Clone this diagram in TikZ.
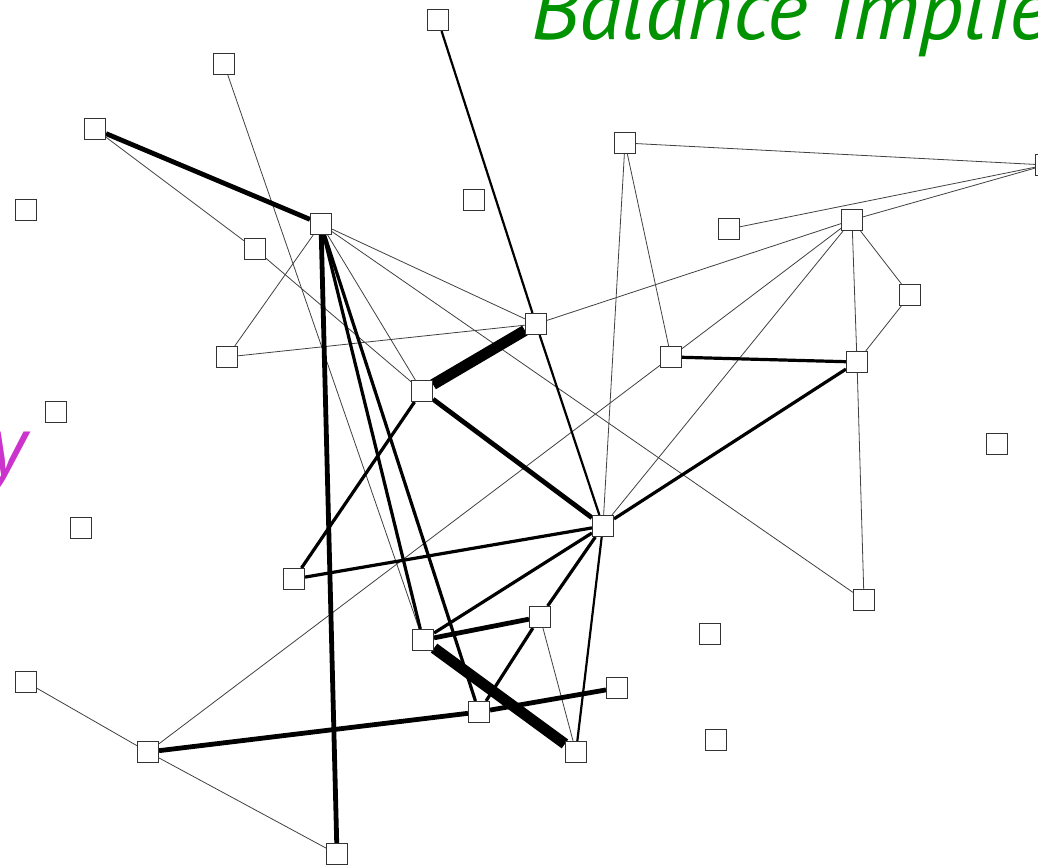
\documentclass[tikz,border=0pt]{standalone}
\usepackage{fontspec}
\newfontfamily\slidefont{PT Sans}
\usetikzlibrary{backgrounds}
\definecolor{slidegreen}{RGB}{0,146,0}
\definecolor{slidepink}{RGB}{204,51,204}
\tikzset{
vtx/.style={
  rectangle,
  draw=black!80,
  fill=white,
  line width=1.1pt,
  minimum size=21pt,
  inner sep=0pt
  },
wa/.style={black!75,line width=0.8pt},
wb/.style={black,line width=2.2pt},
wc/.style={black,line width=3.2pt},
wd/.style={black,line width=4.8pt},
we/.style={black,line width=11pt},
bigword/.style={
  inner sep=0pt,
  font=\slidefont\itshape\fontsize{87}{92}\selectfont
  }
}

\begin{document}
\begin{tikzpicture}[x=1pt,y=-1pt]

\useasboundingbox (0,0) rectangle (1038,866);

\node[bigword,text=slidegreen,anchor=base west] (head) at (531,40) {Balance implie};
\node[bigword,text=slidepink,anchor=base east] (tail) at (27,475) {y};

\node[vtx] (v1) at (438,20) {};
\node[vtx] (v2) at (224,64) {};
\node[vtx] (v3) at (95,129) {};
\node[vtx] (v4) at (26,210) {};
\node[vtx] (v5) at (474,200) {};
\node[vtx] (v6) at (321,224) {};
\node[vtx] (v7) at (255,249) {};
\node[vtx] (v8) at (625,143) {};
\node[vtx] (v9) at (729,229) {};
\node[vtx] (v10) at (852,220) {};
\node[vtx] (v11) at (1046,165) {};
\node[vtx] (v12) at (910,295) {};
\node[vtx] (v13) at (227,357) {};
\node[vtx] (v14) at (536,324) {};
\node[vtx] (v15) at (422,391) {};
\node[vtx] (v16) at (671,357) {};
\node[vtx] (v17) at (857,362) {};
\node[vtx] (v18) at (56,412) {};
\node[vtx] (v19) at (997,444) {};
\node[vtx] (v20) at (81,528) {};
\node[vtx] (v21) at (603,526) {};
\node[vtx] (v22) at (294,579) {};
\node[vtx] (v23) at (864,600) {};
\node[vtx] (v24) at (540,617) {};
\node[vtx] (v25) at (423,640) {};
\node[vtx] (v26) at (710,634) {};
\node[vtx] (v27) at (26,682) {};
\node[vtx] (v28) at (617,688) {};
\node[vtx] (v29) at (479,712) {};
\node[vtx] (v30) at (148,752) {};
\node[vtx] (v31) at (576,752) {};
\node[vtx] (v32) at (716,740) {};
\node[vtx] (v33) at (337,854) {};

\begin{scope}[on background layer]
% light links
\draw[wa] (v3) -- (v7);
\draw[wa] (v7) -- (v15);
\draw[wa] (v2) -- (v25);
\draw[wa] (v6) -- (v13);
\draw[wa] (v6) -- (v14);
\draw[wa] (v6) -- (v15);
\draw[wa] (v6) -- (v23);
\draw[wa] (v13) -- (v14);
\draw[wa] (v8) -- (v11);
\draw[wa] (v8) -- (v16);
\draw[wa] (v8) -- (v21);
\draw[wa] (v9) -- (v11);
\draw[wa] (v10) -- (v11);
\draw[wa] (v14) -- (v10);
\draw[wa] (v10) -- (v16);
\draw[wa] (v10) -- (v21);
\draw[wa] (v10) -- (v17);
\draw[wa] (v10) -- (v12);
\draw[wa] (v12) -- (v17);
\draw[wa] (v17) -- (v23);
\draw[wa] (v16) -- (v30);
\draw[wa] (v24) -- (v31);
\draw[wa] (v30) -- (v27);
\draw[wa] (v30) -- (v33);
% heavier links
\draw[wb] (v1) -- (v14);
\draw[wb] (v14) -- (v21);
\draw[wb] (v21) -- (v31);
\draw[wc] (v16) -- (v17);
\draw[wc] (v17) -- (v21);
\draw[wc] (v6) -- (v25);
\draw[wc] (v6) -- (v29);
\draw[wc] (v15) -- (v22);
\draw[wc] (v22) -- (v21);
\draw[wc] (v25) -- (v21);
\draw[wc] (v24) -- (v21);
\draw[wc] (v24) -- (v29);
\draw[wd] (v3) -- (v6);
\draw[wd] (v6) -- (v33);
\draw[wd] (v15) -- (v21);
\draw[wd] (v25) -- (v24);
\draw[wd] (v30) -- (v29);
\draw[wd] (v29) -- (v28);
\draw[we] (v15) -- (v14);
\draw[we] (v25) -- (v31);
\end{scope}

\end{tikzpicture}
\end{document}
